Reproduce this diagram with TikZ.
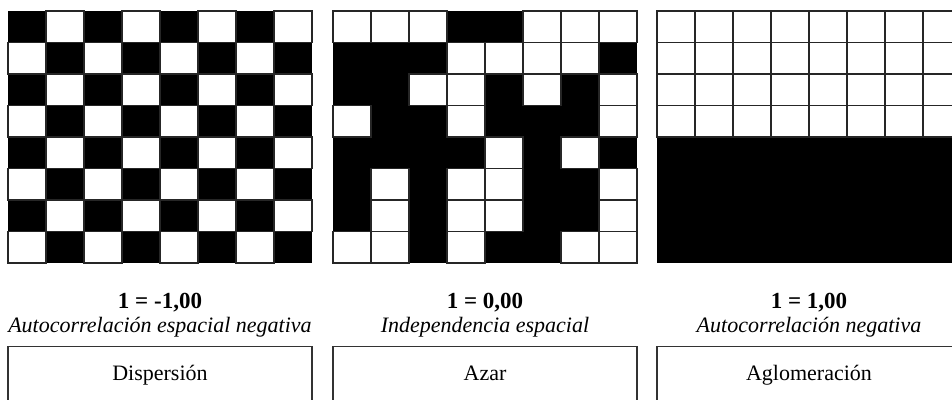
\documentclass[tikz,border=0pt]{standalone}
\usepackage{fontspec}
\setmainfont{Liberation Serif}
\usetikzlibrary{positioning}
\begin{document}
\begin{tikzpicture}[x=1pt, y=-1pt, every node/.style={font=\fontsize{22}{26}\selectfont, inner sep=0pt}, cellw/.style={draw=black!85,line width=1.4pt,fill=white}, val/.style={anchor=base,font=\fontsize{23}{27}\selectfont\bfseries}, desc/.style={anchor=base,font=\fontsize{22}{26}\selectfont\itshape}, tag/.style={draw=black!80,line width=1.1pt,anchor=north,minimum width=304pt,minimum height=58pt,text height=15pt,text depth=5pt}]
\useasboundingbox (0,0) rectangle (952,399);
\clip (0,0) rectangle (952,399);
\fill[black] (8,11) rectangle (312,263);
\fill[black] (333,11) rectangle (637,263);
\fill[black] (657,11) rectangle (961,263);
\foreach \r in {0,...,7}
  \foreach \c in {0,...,7}{
    \pgfmathtruncatemacro\k{mod(\r+\c,2)}
    \ifnum\k=1 \draw[cellw] (8+38*\c,11+31.5*\r) rectangle ++(38,31.5);\fi
  }
\foreach \row [count=\r from 0] in {{0,0,0,1,1,0,0,0},{1,1,1,0,0,0,0,1},{1,1,0,0,1,0,1,0},{0,1,1,0,1,1,1,0},{1,1,1,1,0,1,0,1},{1,0,1,0,0,1,1,0},{1,0,1,0,0,1,1,0},{0,0,1,0,1,1,0,0}}
  \foreach \v [count=\c from 0] in \row{
    \ifnum\v=0 \draw[cellw] (333+38*\c,11+31.5*\r) rectangle ++(38,31.5);\fi
  }
\foreach \r in {0,...,3}
  \foreach \c in {0,...,7}
    \draw[cellw] (657+38*\c,11+31.5*\r) rectangle ++(38,31.5);
\node[val] (v1) at (160,308) {1 = -1,00};
\node[val] (v2) at (485,308) {1 = 0,00};
\node[val] (v3) at (809,308) {1 = 1,00};
\node[desc] (d1) at (160,332) {Autocorrelación espacial negativa};
\node[desc] (d2) at (485,332) {Independencia espacial};
\node[desc] (d3) at (809,332) {Autocorrelación negativa};
\node[tag] (t1) at (160,346) {Dispersión};
\node[tag] (t2) at (485,346) {Azar};
\node[tag] (t3) at (809,346) {Aglomeración};
\end{tikzpicture}
\end{document}
